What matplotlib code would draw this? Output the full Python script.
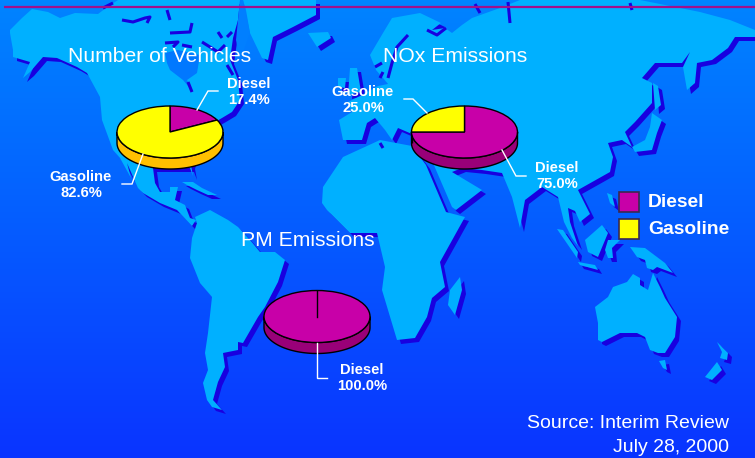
import numpy as np
import matplotlib
matplotlib.use('Agg')
import matplotlib.pyplot as plt
from matplotlib.patches import Polygon, Wedge, Rectangle
from matplotlib.transforms import Affine2D

plt.rcParams['font.family'] = ['Liberation Sans', 'DejaVu Sans']

# pie data, in the order the slices run clockwise from 12 o'clock
pie_titles = ['Number of Vehicles', 'NOx Emissions', 'PM Emissions']
vehicles_names = ['Diesel', 'Gasoline']
vehicles_share = [17.4, 82.6]
nox_names = ['Diesel', 'Gasoline']
nox_share = [75.0, 25.0]
pm_names = ['Diesel']
pm_share = [100.0]
source_lines = ['Source: Interim Review', 'July 28, 2000']

DIESEL = '#C800A8'
GASOLINE = '#FFFF00'
DIESEL_SIDE = '#990078'
GASOLINE_SIDE = '#FFC000'
LAND = '#00B0FF'
SHADOW = '#1800E0'

# rough coastlines, in pixels from the top left corner
land = [
    # north america with the arctic islands
    [(10,30),(22,18),(32,9),(48,12),(60,18),(75,13),(98,14),(106,8),(118,0),(240,0),(238,20),(233,38),(230,60),(238,80),(240,100),
     (232,112),(222,118),(208,126),(198,140),(191,165),(193,176),(190,168),(153,168),(155,183),(160,192),(170,192),(170,187),
     (178,187),(175,200),(185,205),(190,218),(196,220),(192,226),(177,210),(160,203),(143,193),(138,188),(127,163),(131,178),
     (120,158),(113,150),(102,120),(100,97),(87,73),(77,67),(57,58),(43,57),(30,72),(23,78),(30,62),(13,57),(13,50),(10,33)],
    # greenland and iceland
    [(243,0),(316,0),(316,15),(293,27),(273,37),(268,60),(262,58),(250,33),(246,10)],
    [(308,33),(328,32),(331,38),(317,47)],
    # cuba
    [(182,182),(193,182),(202,188),(217,195),(208,195),(197,190),(187,185)],
    # south america
    [(195,217),(197,223),(192,238),(190,258),(200,283),(212,297),(208,333),(205,353),(208,370),(203,383),(207,400),(212,407),
     (222,410),(213,400),(218,382),(225,367),(223,353),(238,350),(238,342),(243,343),(258,317),(265,307),(278,282),(285,260),
     (275,252),(260,252),(250,240),(238,227),(228,220),(210,210)],
    # europe and asia
    [(370,55),(383,33),(392,18),(420,13),(441,23),(432,30),(445,28),(452,33),(462,25),(472,18),(500,8),(520,0),(640,0),(680,8),
     (700,12),(730,20),(755,30),(755,37),(735,37),(728,48),(712,60),(697,63),(695,83),(687,90),(683,67),(690,52),(682,63),
     (655,63),(642,78),(652,83),(652,103),(635,122),(625,132),(632,147),(622,140),(608,143),(613,157),(610,172),(578,190),
     (587,208),(590,214),(580,222),(575,211),(568,208),(570,222),(576,240),(578,246),(572,238),(564,222),(558,197),(542,187),
     (525,200),(520,228),(512,197),(502,173),(482,170),(462,168),(452,172),(482,190),(456,210),(452,207),(433,163),(420,148),
     (412,134),(398,128),(392,140),(385,130),(375,118),(367,123),(362,140),(343,140),(339,120),(352,112),(348,102),(362,95),
     (378,86),(388,84),(376,70)],
    # britain and ireland
    [(350,68),(357,68),(361,92),(348,95)],
    [(338,78),(346,78),(345,88),(338,87)],
    # africa
    [(380,140),(343,157),(323,187),(322,203),(327,210),(350,233),(377,233),(385,267),(382,290),(397,340),(415,338),(427,317),
     (432,298),(445,287),(440,262),(465,217),(446,212),(426,165),(412,146)],
    # madagascar
    [(460,277),(462,290),(455,315),(448,305),(450,290)],
    # japan and sakhalin
    [(652,113),(662,120),(657,133),(652,150),(635,152),(632,147),(645,140),(650,127)],
    [(653,83),(658,86),(661,105),(655,110)],
    # south east asia
    [(607,193),(612,195),(615,207),(610,203)],
    [(585,240),(602,225),(608,233),(598,257),(588,252)],
    [(557,229),(563,230),(578,252),(577,258)],
    [(578,262),(595,265),(598,270),(580,265)],
    [(605,250),(608,240),(620,240),(612,248),(613,258),(608,258)],
    [(630,247),(645,248),(665,263),(673,273),(657,267),(653,270),(647,268),(645,260),(637,257)],
    # australia, tasmania, new zealand
    [(595,307),(608,297),(613,287),(627,282),(633,274),(640,278),(640,285),(648,290),(653,273),(660,287),(665,298),(677,317),
     (675,337),(665,353),(658,353),(650,350),(645,337),(637,333),(620,333),(602,342),(598,340),(598,323)],
    [(659,361),(665,360),(667,370),(663,368)],
    [(717,342),(728,353),(727,360),(720,358),(722,352)],
    [(717,362),(722,370),(712,380),(705,377)],
]

# open water inside the land shapes
seas = [
    [(167,63),(165,53),(178,50),(200,55),(197,73),(187,80),(193,92),(183,80),(170,70)],
    [(240,0),(243,0),(250,33),(240,60),(236,40)],
]

# narrow straits, only the dark coast shadow shows there
straits = [
    [(122,20),(133,22),(145,18),(150,17),(147,23)],
    [(103,8),(113,3)],
    [(167,10),(170,20)],
    [(170,33),(190,32),(192,23)],
    [(165,43),(178,42),(173,47)],
    [(182,45),(192,47)],
    [(202,42),(218,52),(225,45)],
    [(218,32),(222,38)],
    [(227,37),(232,32)],
    [(227,65),(233,75)],
    [(188,82),(192,92)],
    [(408,35),(397,47),(392,63),(388,78)],
    [(375,67),(382,63)],
    [(380,78),(383,72)],
    [(427,30),(437,35),(446,28)],
    [(380,143),(383,148)],
    [(508,2),(510,23)],
    [(475,4),(480,13)],
    [(630,3),(632,10)],
]


def draw_pie(ax, cx, cy, names, shares, rx=53.0, ry=26.0, depth=11.0):
    slice_colors = {'Diesel': (DIESEL, DIESEL_SIDE), 'Gasoline': (GASOLINE, GASOLINE_SIDE)}
    ends = np.cumsum(shares) / np.sum(shares)
    starts = np.concatenate([[0.0], ends[:-1]])

    # front wall first, only the part of each slice that faces the viewer
    for name, s, e in zip(names, starts, ends):
        t = np.radians(np.linspace(90 - 360 * s, 90 - 360 * e, 400))
        t = t[np.sin(t) <= 0]
        if len(t) == 0:
            continue
        x = cx + rx * np.cos(t)
        y = cy - ry * np.sin(t)
        pts = np.concatenate([np.column_stack([x, y]), np.column_stack([x, y + depth])[::-1]])
        ax.add_patch(Polygon(pts, fc=slice_colors[name][1], ec='black', lw=1, zorder=5))

    # top face, a unit pie squashed into an ellipse
    squash = Affine2D().scale(rx, -ry).translate(cx, cy) + ax.transData
    for name, s, e in zip(names, starts, ends):
        if e - s >= 1.0:
            w = Wedge((0, 0), 1, 0, 360, fc=slice_colors[name][0], ec='black', lw=1, zorder=6)
            w.set_transform(squash)
            ax.add_patch(w)
            ax.plot([cx, cx], [cy - ry, cy], color='black', lw=1, zorder=7)
        else:
            w = Wedge((0, 0), 1, 90 - 360 * e, 90 - 360 * s, fc=slice_colors[name][0], ec='black', lw=1, zorder=6)
            w.set_transform(squash)
            ax.add_patch(w)


def slice_label(ax, name, share, x, y, leader):
    ax.text(x, y, '%s\n%.1f%%' % (name, share), color='white', fontsize=10.6, fontweight='bold',
            ha='center', va='center', linespacing=1.22, zorder=9)
    ax.plot(*zip(*leader), color='white', lw=1, zorder=8, solid_joinstyle='miter')


fig = plt.figure(figsize=(7.55, 4.58), dpi=100)
ax = fig.add_axes([0, 0, 1, 1])
ax.set_xlim(0, 755)
ax.set_ylim(458, 0)
ax.axis('off')

# background fades from light blue to deep blue
top = np.array([0, 132, 255]) / 255
bottom = np.array([10, 52, 255]) / 255
fade = np.linspace(0, 1, 458)[:, None, None]
ax.imshow(top * (1 - fade) + bottom * fade, extent=(0, 755, 458, 0), aspect='auto', zorder=0)

for coast in land:
    pts = np.array(coast, dtype=float)
    ax.add_patch(Polygon(pts + [4, 4], fc=SHADOW, ec='none', zorder=1))
for coast in land:
    ax.add_patch(Polygon(np.array(coast, dtype=float), fc=LAND, ec='none', zorder=2))
for sea in seas:
    pts = np.array(sea, dtype=float)
    shade = top * (1 - pts[:, 1].mean() / 458) + bottom * pts[:, 1].mean() / 458
    ax.add_patch(Polygon(pts, fc=shade, ec='none', zorder=2.1))
for strait in straits:
    ax.plot(*zip(*strait), color=SHADOW, lw=2.2, zorder=2.2, solid_capstyle='butt')

ax.plot([4, 755], [6.5, 6.5], color='#A0108C', lw=1.6, zorder=3, solid_capstyle='butt')

draw_pie(ax, 170, 132, vehicles_names, vehicles_share)
draw_pie(ax, 464.5, 132, nox_names, nox_share)
draw_pie(ax, 317, 316.5, pm_names, pm_share)

slice_label(ax, vehicles_names[0], vehicles_share[0], 249, 92, [(197, 110), (208, 91), (218, 91)])
slice_label(ax, vehicles_names[1], vehicles_share[1], 81, 185, [(143, 154), (132, 184), (122, 184)])
slice_label(ax, nox_names[1], nox_share[1], 363, 100, [(427, 113), (413, 99), (404, 99)])
slice_label(ax, nox_names[0], nox_share[0], 557, 176, [(502, 150), (516, 176), (526, 176)])
slice_label(ax, pm_names[0], pm_share[0], 362, 378, [(317, 343), (317, 378), (327, 378)])

title_spots = [(68, 57), (383, 57), (241, 241)]
for title, (x, y) in zip(pie_titles, title_spots):
    ax.text(x, y, title, color='white', fontsize=15.2, ha='left', va='center', zorder=9)

# key
for name, color, y in [('Diesel', DIESEL, 192), ('Gasoline', GASOLINE, 219)]:
    ax.add_patch(Rectangle((619, y), 20, 20, fc=color, ec='#3A2A50', lw=1.2, zorder=8))
    ax.text(648, y + 10.5, name, color='white', fontsize=13.9, fontweight='bold', ha='left', va='center', zorder=9)

ax.text(729, 423.5, source_lines[0], color='white', fontsize=14, ha='right', va='center', zorder=9)
ax.text(729, 447, source_lines[1], color='white', fontsize=14, ha='right', va='center', zorder=9)

fig.savefig('out.png', dpi=100)
